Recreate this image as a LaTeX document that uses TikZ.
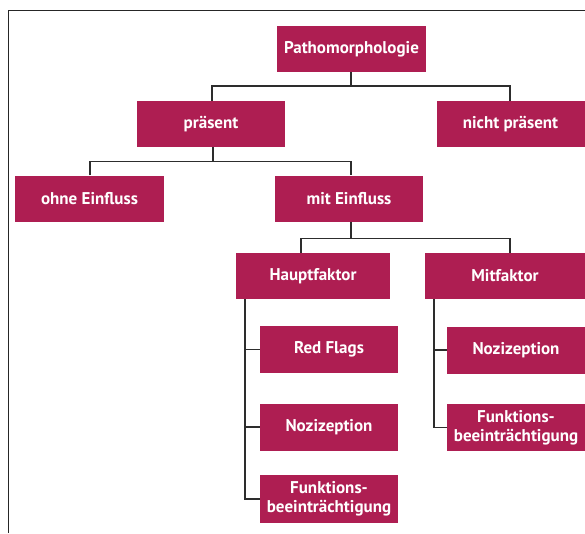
\documentclass[tikz,border=0pt]{standalone}
\usepackage{fontspec}
\setmainfont{PT Sans}
\definecolor{boxred}{RGB}{174,30,82}
\definecolor{linegray}{RGB}{45,45,45}
\begin{document}
\begin{tikzpicture}[x=1pt,y=-1pt,
  box/.style={fill=boxred, text=white, font=\bfseries\fontsize{17}{19}\selectfont,
    minimum height=46pt, inner sep=0pt, align=center, anchor=center},
  conn/.style={draw=linegray, line width=1.8pt},
  frame/.style={draw=black!85, line width=1pt}]
\useasboundingbox (0,0) rectangle (585,533);
\draw[frame] (8,533) -- (8,10.5) -- (585,10.5);
% nodes
\node[box, minimum width=149pt] (patho) at (351.5,49) {Pathomorphologie};
\node[box, minimum width=148pt] (praes) at (211,124) {präsent};
\node[box, minimum width=148pt] (nicht) at (510.5,124) {nicht präsent};
\node[box, minimum width=149pt] (ohne) at (89.5,198.5) {ohne Einfluss};
\node[box, minimum width=148pt] (mit) at (349,198.5) {mit Einfluss};
\node[box, minimum width=154pt] (haupt) at (313,276) {Hauptfaktor};
\node[box, minimum width=160pt] (mitf) at (505,276) {Mitfaktor};
\node[box, minimum width=138pt, minimum height=47pt] (red) at (329,349.5) {Red Flags};
\node[box, minimum width=138pt, minimum height=47pt] (noz1) at (329,427) {Nozizeption};
\node[box, minimum width=138pt, minimum height=48pt] (funk1) at (329,499) {Funktions-\\beeinträchtigung};
\node[box, minimum width=138pt, minimum height=47pt] (noz2) at (516,350) {Nozizeption};
\node[box, minimum width=138pt, minimum height=47pt] (funk2) at (516,427.5) {Funktions-\\beeinträchtigung};
% connectors
\coordinate (j1) at (351,86);
\draw[conn] (patho.south -| j1) -- (j1);
\draw[conn] (praes.north -| 212,0) |- (j1) -| (nicht.north -| 510,0);
\coordinate (j2) at (213,161.5);
\draw[conn] (praes.south -| j2) -- (j2);
\draw[conn] (ohne.north -| 90,0) |- (j2) -| (mit.north -| 351,0);
\coordinate (j3) at (351,238.5);
\draw[conn] (mit.south -| j3) -- (j3);
\draw[conn] (haupt.north -| 301,0) |- (j3) -| (mitf.north -| 510,0);
\coordinate (t1) at (245,0);
\draw[conn] (haupt.south -| t1) |- (red.west);
\draw[conn] (haupt.south -| t1) |- (noz1.west);
\draw[conn] (haupt.south -| t1) |- (funk1.west);
\coordinate (t2) at (434,0);
\draw[conn] (mitf.south -| t2) |- (noz2.west);
\draw[conn] (mitf.south -| t2) |- (funk2.west);
\end{tikzpicture}
\end{document}
